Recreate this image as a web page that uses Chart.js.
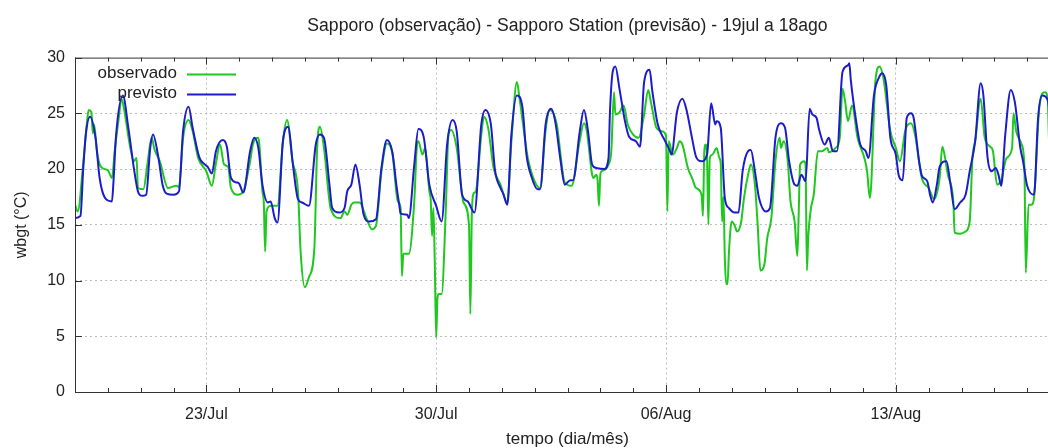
<!DOCTYPE html>
<html>
<head>
<meta charset="utf-8">
<script src="https://cdn.jsdelivr.net/npm/chart.js@4.4.1/dist/chart.umd.min.js"></script>
<style>
  html, body { margin: 0; padding: 0; overflow: hidden; background: #fff; }
  #wrap { width: 1075px; height: 448px; }
</style>
</head>
<body>
<div id="wrap"><canvas id="wbgtChart"></canvas></div>
<script>
// horas desde 19/jul 00:00
const obsHours = [0,2,6,9,10,12,13,14,16,19,
  24,27,29,32,34,36,40,43,45,46,
  50,53,56,58,62,68,74,76,79,83,
  86,90,96,100,103,106,109,112,114,119,
  123,128,130,134,137,138,139,140,143,148,
  152,155,159,163,165,168,171,175,177,179,
  182,187,194,197,199,202,204,208,213,217,
  220,224,228,232,236,238,239,240,244,248,
  250,251,254,256,259,260,261,262,263,264,
  265,266,268,271,273,275,279,284,288,289,
  290,291,293,297,299,302,306,311,316,319,
  323,325,331,336,340,344,347,352,358,363,
  369,372,374,378,379,381,382,383,384,385,
  390,392,394,395,398,401,404,408,412,416,
  419,421,425,429,432,433,434,437,440,442,
  444,448,451,454,458,459,460,461,462,463,
  464,466,469,471,472,473,474,475,476,477,
  478,480,482,484,487,489,492,494,497,499,
  501,504,506,509,512,515,516,518,521,523,
  526,528,529,530,533,534,535,536,538,540,
  543,546,550,551,556,559,561,563,565,568,
  572,577,579,581,582,585,588,591,596,600,
  603,607,611,614,619,624,628,632,634,636,
  638,642,643,647,651,654,656,658,662,665,
  669,671,674,677,681,685,686,688,692,694,
  695,697,699,701,705,709,711,712,716,720];
const obsValues = [16.8,16.2,20.5,24.5,25.3,25.1,23.2,24.0,21.6,20.2,
  19.9,19.2,21.6,24.6,26.3,25.3,22.2,20.7,21.0,18.3,
  18.2,20.5,22.8,21.8,20.7,18.3,18.5,18.4,22.8,24.4,
  23.4,21.0,19.8,18.5,20.5,22.2,20.4,20.2,18.3,17.7,
  18.0,20.7,22.2,22.8,18.0,17.0,12.6,16.2,16.7,16.7,
  22.5,24.4,20.7,18.0,12.4,9.4,10.3,13.0,21.9,23.8,
  21.9,16.4,15.6,16.2,15.9,16.8,17.0,17.0,15.6,14.6,
  14.9,19.8,22.3,21.4,17.1,16.5,10.4,12.4,12.4,17.1,
  22.2,22.5,21.3,21.9,18.0,17.3,14.0,16.5,11.5,4.9,
  8.5,8.8,8.8,16.2,23.1,23.5,21.9,17.0,15.0,7.0,
  15.5,17.7,18.0,23.1,24.7,23.7,20.1,18.6,17.0,22.5,
  27.8,26.3,21.0,18.9,18.3,23.5,25.3,24.1,18.8,18.5,
  22.6,24.1,23.5,19.5,19.2,19.5,19.0,16.7,19.5,19.8,
  20.4,21.6,26.9,24.9,25.1,25.7,24.0,23.1,22.8,24.9,
  27.1,26.0,23.7,23.4,23.0,16.2,22.5,21.3,21.9,22.5,
  22.2,20.1,19.2,18.3,17.7,15.8,21.6,22.2,21.0,15.0,
  21.0,21.3,21.9,21.0,20.5,15.3,17.5,12.0,9.7,9.7,
  12.5,15.3,15.0,14.4,15.3,17.4,19.5,20.4,18.6,15.0,
  10.9,11.5,13.8,15.6,20.7,22.8,21.9,22.5,20.7,17.1,
  15.3,12.2,16.0,20.4,20.7,20.4,10.9,14.0,16.5,17.7,
  21.6,21.6,21.9,21.5,21.9,22.8,27.2,26.0,24.3,25.7,
  22.8,21.0,19.8,17.4,18.6,27.8,29.2,28.1,23.4,21.9,
  20.7,23.5,24.1,23.1,19.2,18.3,17.3,19.2,22.0,21.0,
  19.5,17.1,14.3,14.2,14.4,15.3,21.0,22.5,26.3,22.8,
  22.0,21.6,18.6,19.0,21.0,21.9,25.0,23.4,22.2,20.1,
  10.7,16.8,16.8,17.4,25.7,26.9,26.3,22.5,19.0,18.0];

const prevHours = [0,4,6,8,11,15,18,22,27,28,
  30,35,39,43,46,49,52,55,57,61,
  64,67,72,76,79,83,86,91,95,97,
  100,103,108,111,114,118,120,123,128,131,
  134,137,141,143,146,148,152,156,159,163,
  166,171,176,179,182,186,188,193,197,199,
  202,205,208,211,215,220,224,228,232,235,
  237,238,243,244,248,251,255,259,264,268,
  272,276,279,283,287,292,297,300,304,307,
  311,313,316,319,323,327,330,334,338,340,
  344,348,351,355,358,362,364,369,372,375,
  378,381,387,390,391,393,395,398,402,405,
  410,413,416,420,422,426,431,435,436,440,
  444,447,451,454,458,462,465,468,469,472,
  475,478,482,485,488,492,494,497,500,505,
  508,512,516,519,522,526,528,531,534,537,
  539,542,544,548,551,554,557,561,565,566,
  567,571,574,578,580,584,588,590,593,596,
  600,602,605,608,611,613,617,619,623,625,
  627,630,632,637,640,643,647,651,654,658,
  662,664,667,670,673,675,677,680,684,687,
  691,693,696,701,704,707,711,714,717,720];
const prevValues = [15.6,15.8,20.0,23.2,24.7,22.8,19.2,17.4,17.1,18.6,
  23.0,26.6,23.7,20.1,18.0,17.6,17.7,21.9,23.1,21.0,
  18.6,17.8,17.7,18.0,23.4,25.6,23.7,21.0,20.4,20.2,
  19.6,21.6,22.6,22.0,19.2,18.8,18.7,17.9,21.6,22.8,
  21.9,18.6,17.0,17.1,15.6,15.2,22.5,23.8,20.7,17.3,
  17.0,16.7,22.2,23.1,22.8,18.6,16.5,16.1,16.5,18.0,
  18.6,20.4,18.6,15.9,15.3,15.5,20.1,22.6,21.5,18.5,
  16.8,16.0,15.9,15.6,20.4,23.6,22.8,18.6,16.7,15.3,
  22.2,24.4,23.4,17.7,17.1,16.1,24.0,25.3,24.0,19.9,
  18.3,17.8,16.8,23.1,26.6,25.6,21.3,19.2,18.2,18.2,
  24.0,25.4,24.3,20.7,18.6,19.0,19.0,23.4,25.3,23.4,
  20.4,20.1,20.0,21.0,25.0,28.7,29.2,27.2,24.3,22.9,
  22.5,22.0,27.8,28.9,27.0,24.0,22.6,21.6,21.3,25.1,
  26.3,25.3,22.8,21.1,20.7,21.3,25.9,24.0,24.3,23.7,
  17.4,16.5,16.1,16.1,19.8,21.6,21.7,19.8,17.4,16.2,
  16.5,22.8,24.1,23.7,20.7,18.6,18.5,19.5,18.9,25.4,
  24.9,24.6,23.5,22.2,22.8,21.6,21.6,28.7,29.3,29.5,
  28.1,24.3,22.2,21.6,21.0,26.6,28.3,28.6,27.5,22.8,
  21.3,19.5,19.0,24.6,25.0,24.6,20.7,19.4,18.9,17.7,
  17.0,18.6,20.2,20.7,18.6,16.4,17.0,17.7,19.8,22.5,
  27.7,26.6,21.1,19.8,20.1,19.5,18.5,23.1,27.1,26.0,
  21.9,20.7,18.5,17.7,24.6,26.6,26.2,23.0,19.5,18.5];

// rótulos do eixo x (horas desde 19/jul)
const majorTicks = [96, 264, 432, 600];
const majorLabels = ['23/Jul', '30/Jul', '06/Aug', '13/Aug'];

const FONT = '"Liberation Sans", Arial, sans-serif';
const TXT = '#222';
const GRID = '#bdbdbd';

Chart.defaults.font.family = FONT;
Chart.defaults.font.size = 16;
Chart.defaults.color = TXT;

const toPoints = (hs, vs) => hs.map((h, i) => ({ x: h, y: vs[i] }));

// moldura, ticks para dentro e legenda no estilo gnuplot
const gnuplotFrame = {
  id: 'gnuplotFrame',
  afterDraw(chart) {
    const { ctx, chartArea: a, scales } = chart;
    ctx.save();
    ctx.strokeStyle = '#333';
    ctx.lineWidth = 1;
    ctx.beginPath();
    ctx.moveTo(a.left + 0.5, a.top + 0.5);
    ctx.lineTo(a.right, a.top + 0.5);
    ctx.moveTo(a.left + 0.5, a.top);
    ctx.lineTo(a.left + 0.5, a.bottom + 0.5);
    ctx.lineTo(a.right, a.bottom + 0.5);
    ctx.moveTo(a.right - 0.5, a.top);
    ctx.lineTo(a.right - 0.5, a.bottom);
    // x: ticks diários (menores) e semanais (maiores)
    scales.x.ticks.forEach(t => {
      const x = Math.round(scales.x.getPixelForValue(t.value)) + 0.5;
      const len = majorTicks.includes(t.value) ? 7 : 4;
      ctx.moveTo(x, a.bottom);
      ctx.lineTo(x, a.bottom - len);
      ctx.moveTo(x, a.top);
      ctx.lineTo(x, a.top + len);
    });
    scales.y.ticks.forEach(t => {
      const y = Math.round(scales.y.getPixelForValue(t.value)) + 0.5;
      ctx.moveTo(a.left, y);
      ctx.lineTo(a.left + 7, y);
    });
    ctx.stroke();

    // legenda
    ctx.font = '17px ' + FONT;
    ctx.fillStyle = TXT;
    ctx.textAlign = 'right';
    ctx.textBaseline = 'middle';
    chart.data.datasets.forEach((ds, i) => {
      const y = a.top + 16 + i * 20;
      ctx.fillText(ds.label, a.left + 102, y);
      ctx.strokeStyle = ds.borderColor;
      ctx.lineWidth = 2;
      ctx.beginPath();
      ctx.moveTo(a.left + 112, y + 1);
      ctx.lineTo(a.left + 161, y + 1);
      ctx.stroke();
    });
    ctx.restore();
  }
};

new Chart(document.getElementById('wbgtChart'), {
  type: 'line',
  data: {
    datasets: [
      {
        label: 'observado',
        data: toPoints(obsHours, obsValues),
        borderColor: '#1ec81e',
        borderWidth: 2,
        pointRadius: 0,
        cubicInterpolationMode: 'monotone',
        order: 1
      },
      {
        label: 'previsto',
        data: toPoints(prevHours, prevValues),
        borderColor: '#1c1ccc',
        borderWidth: 2,
        pointRadius: 0,
        cubicInterpolationMode: 'monotone',
        order: 0
      }
    ]
  },
  options: {
    responsive: true,
    maintainAspectRatio: false,
    animation: false,
    layout: { padding: { left: 0, right: 15, top: 0, bottom: 0 } },
    scales: {
      x: {
        type: 'linear',
        min: 0,
        max: 720,
        afterFit(scale) { scale.height = 56; },
        ticks: {
          stepSize: 24,
          autoSkip: false,
          maxRotation: 0,
          padding: 13,
          callback: v => {
            const i = majorTicks.indexOf(v);
            return i >= 0 ? majorLabels[i] : '';
          }
        },
        grid: {
          drawTicks: false,
          color: c => (c.tick && majorTicks.includes(c.tick.value)) ? GRID : 'transparent'
        },
        border: { display: false, dash: [2, 3] },
        title: {
          display: true,
          text: 'tempo (dia/mês)',
          font: { size: 17, lineHeight: 1 },
          padding: 0
        }
      },
      y: {
        min: 0,
        max: 30,
        afterFit(scale) { scale.width = 75; },
        ticks: { stepSize: 5, padding: 10 },
        grid: {
          drawTicks: false,
          color: c => (c.tick && (c.tick.value === 0 || c.tick.value === 30)) ? 'transparent' : GRID
        },
        border: { display: false, dash: [2, 3] },
        title: {
          display: true,
          text: 'wbgt (°C)',
          font: { size: 16, lineHeight: 1 },
          padding: 14
        }
      }
    },
    plugins: {
      legend: { display: false },
      tooltip: { enabled: false },
      title: {
        display: true,
        fullSize: false,
        text: 'Sapporo (observação) - Sapporo Station (previsão) - 19jul a 18ago',
        font: { size: 17.6, weight: 'normal', lineHeight: 1 },
        color: TXT,
        padding: { top: 17, bottom: 23 }
      }
    }
  },
  plugins: [gnuplotFrame]
});
</script>
</body>
</html>
